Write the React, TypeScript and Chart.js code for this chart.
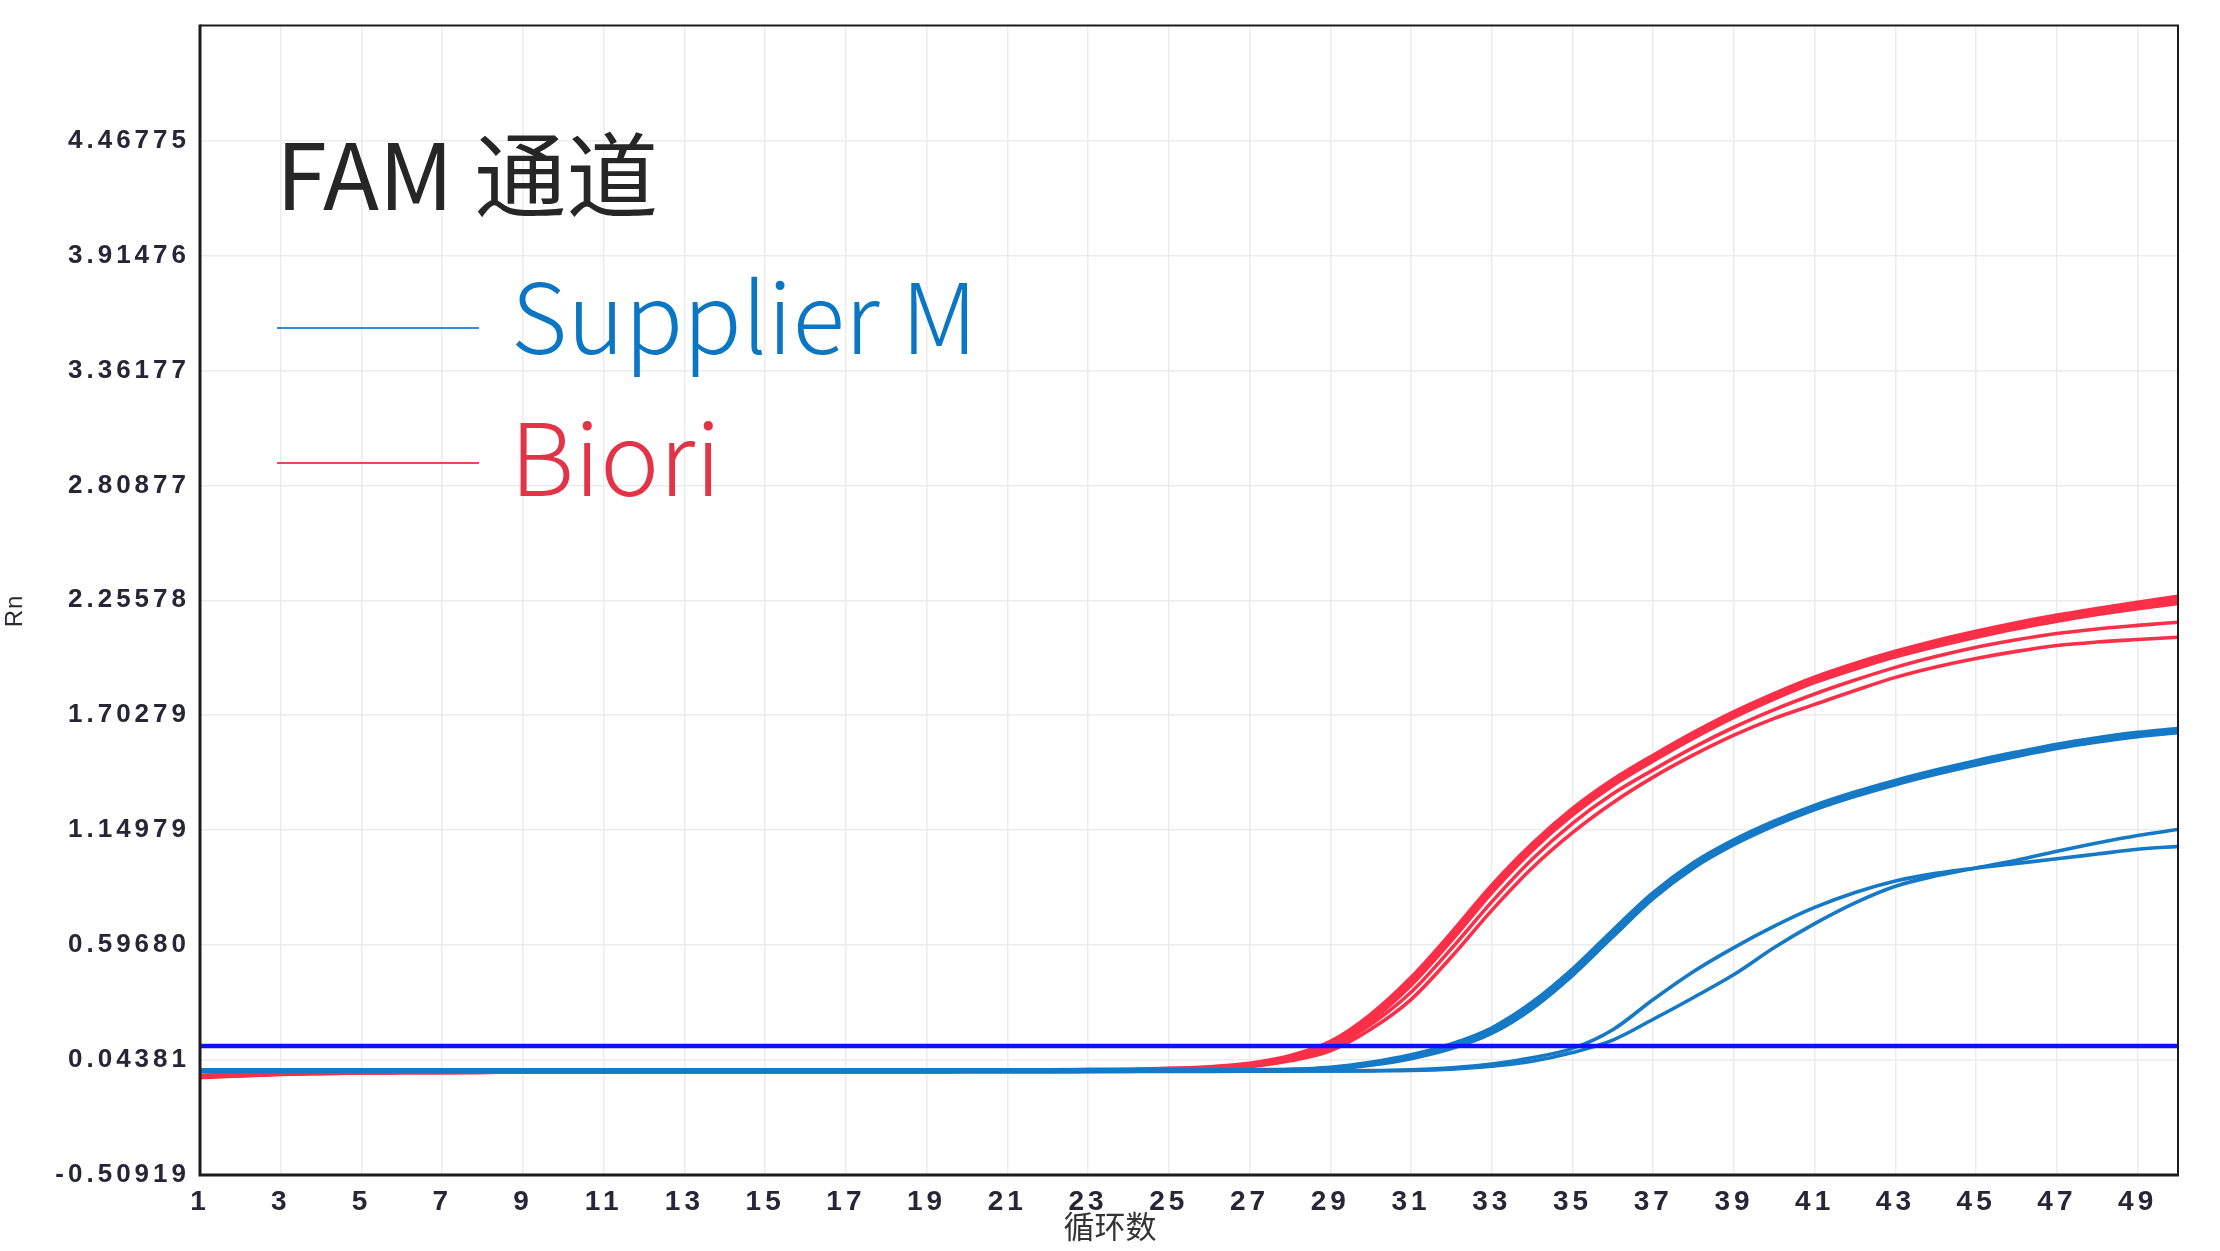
import { useEffect, useRef } from "react";
import { Chart, registerables } from "chart.js";

Chart.register(...registerables);

const CYCLES = [
  1, 2, 3, 4, 5, 6, 7, 8, 9, 10, 11, 12, 13, 14, 15, 16, 17, 18, 19, 20, 21, 22, 23, 24, 25,
  26, 27, 28, 29, 30, 31, 32, 33, 34, 35, 36, 37, 38, 39, 40, 41, 42, 43, 44, 45, 46, 47, 48, 49, 50,
];

// Biori replicates (red)
const BIORI_A = [
  -0.036, -0.028, -0.021, -0.017, -0.014, -0.013, -0.012, -0.011, -0.01, -0.01, -0.01, -0.009, -0.009,
  -0.009, -0.009, -0.009, -0.009, -0.009, -0.009, -0.008, -0.008, -0.008, -0.007, -0.005, -0.001,
  0.007, 0.024, 0.06, 0.128, 0.258, 0.435, 0.65, 0.878, 1.078, 1.248, 1.388, 1.505, 1.615, 1.715,
  1.803, 1.882, 1.948, 2.006, 2.057, 2.102, 2.143, 2.18, 2.212, 2.242, 2.27,
];
const BIORI_B = [
  -0.034, -0.027, -0.02, -0.016, -0.014, -0.013, -0.012, -0.011, -0.01, -0.01, -0.01, -0.009, -0.009,
  -0.009, -0.009, -0.009, -0.009, -0.009, -0.009, -0.008, -0.008, -0.008, -0.007, -0.006, -0.002,
  0.005, 0.02, 0.052, 0.115, 0.238, 0.41, 0.625, 0.855, 1.058, 1.228, 1.37, 1.488, 1.598, 1.698,
  1.786, 1.865, 1.93, 1.988, 2.038, 2.083, 2.124, 2.16, 2.192, 2.22, 2.245,
];
const BIORI_C = [
  -0.035, -0.027, -0.02, -0.016, -0.014, -0.013, -0.012, -0.011, -0.01, -0.01, -0.01, -0.009, -0.009,
  -0.009, -0.009, -0.009, -0.009, -0.009, -0.009, -0.008, -0.008, -0.008, -0.008, -0.006, -0.003,
  0.003, 0.016, 0.046, 0.102, 0.215, 0.37, 0.58, 0.805, 1.01, 1.183, 1.325, 1.44, 1.548, 1.645,
  1.73, 1.805, 1.872, 1.933, 1.985, 2.03, 2.066, 2.096, 2.118, 2.135, 2.15,
];
const BIORI_D = [
  -0.036, -0.028, -0.021, -0.017, -0.014, -0.013, -0.012, -0.011, -0.01, -0.01, -0.01, -0.009, -0.009,
  -0.009, -0.009, -0.009, -0.009, -0.009, -0.009, -0.008, -0.008, -0.008, -0.008, -0.007, -0.004,
  0.001, 0.012, 0.04, 0.088, 0.192, 0.335, 0.54, 0.764, 0.968, 1.138, 1.282, 1.405, 1.512, 1.607,
  1.688, 1.755, 1.822, 1.885, 1.935, 1.976, 2.01, 2.038, 2.055, 2.067, 2.078,
];

// Supplier M replicates (blue)
const SUPPLIER_A = [
  -0.007, -0.007, -0.007, -0.007, -0.007, -0.007, -0.007, -0.007, -0.007, -0.007, -0.007, -0.007,
  -0.007, -0.007, -0.007, -0.007, -0.007, -0.007, -0.007, -0.007, -0.007, -0.007, -0.007, -0.007,
  -0.007, -0.007, -0.006, -0.004, 0.006, 0.03, 0.066, 0.118, 0.195, 0.318, 0.478, 0.665, 0.845, 0.99,
  1.1, 1.19, 1.266, 1.33, 1.386, 1.436, 1.481, 1.522, 1.56, 1.591, 1.617, 1.636,
];
const SUPPLIER_B = [
  -0.008, -0.008, -0.008, -0.008, -0.008, -0.008, -0.008, -0.008, -0.008, -0.008, -0.008, -0.008,
  -0.008, -0.008, -0.008, -0.008, -0.008, -0.008, -0.008, -0.008, -0.008, -0.008, -0.008, -0.008,
  -0.008, -0.008, -0.007, -0.005, 0.002, 0.022, 0.054, 0.102, 0.176, 0.295, 0.455, 0.642, 0.825, 0.972,
  1.084, 1.175, 1.252, 1.316, 1.372, 1.422, 1.467, 1.508, 1.546, 1.577, 1.603, 1.622,
];
const SUPPLIER_C = [
  -0.008, -0.008, -0.008, -0.008, -0.008, -0.008, -0.008, -0.008, -0.008, -0.008, -0.008, -0.008,
  -0.008, -0.008, -0.008, -0.008, -0.008, -0.008, -0.008, -0.008, -0.008, -0.008, -0.008, -0.008,
  -0.008, -0.008, -0.008, -0.008, -0.008, -0.007, -0.003, 0.006, 0.025, 0.055, 0.1, 0.19, 0.335, 0.47,
  0.585, 0.688, 0.778, 0.85, 0.905, 0.942, 0.968, 0.99, 1.012, 1.035, 1.058, 1.072,
];
const SUPPLIER_D = [
  -0.009, -0.009, -0.009, -0.009, -0.009, -0.009, -0.009, -0.009, -0.009, -0.009, -0.009, -0.009,
  -0.009, -0.009, -0.009, -0.009, -0.009, -0.009, -0.009, -0.009, -0.009, -0.009, -0.009, -0.009,
  -0.009, -0.009, -0.009, -0.009, -0.009, -0.008, -0.006, 0.0, 0.014, 0.038, 0.08, 0.14, 0.24, 0.345,
  0.455, 0.585, 0.7, 0.8, 0.88, 0.93, 0.968, 1.005, 1.048, 1.088, 1.124, 1.153,
];

const THRESHOLD = 0.111;

const Y_TICKS = [-0.50919, 0.04381, 0.5968, 1.14979, 1.70279, 2.25578, 2.80877, 3.36177, 3.91476, 4.46775];
const Y_TICK_LABELS = [
  "-0.50919", "0.04381", "0.59680", "1.14979", "1.70279", "2.25578", "2.80877", "3.36177", "3.91476", "4.46775",
];
const Y_MIN = -0.50919;
const Y_MAX = 5.02075;
const X_TICKS = [1, 3, 5, 7, 9, 11, 13, 15, 17, 19, 21, 23, 25, 27, 29, 31, 33, 35, 37, 39, 41, 43, 45, 47, 49];
const X_MIN = 1;
const X_MAX = 50;

const TITLE = "FAM 通道";
const LEGEND_SUPPLIER = "Supplier M";
const LEGEND_BIORI = "Biori";
const X_TITLE = "循环数";
const Y_TITLE = "Rn";

const RED = "#fb2f48";
const BLUE = "#1679c6";
const THRESH_BLUE = "#1010ff";

function pts(vals: number[]) {
  return CYCLES.map((c, i) => ({ x: c, y: vals[i] }));
}

export default function App() {
  const ref = useRef<HTMLCanvasElement | null>(null);

  useEffect(() => {
    if (!ref.current) return;

    const overlay = {
      id: "overlay",
      beforeDraw(chart: any) {
        chart.ctx.letterSpacing = "4px";
      },
      afterDatasetsDraw(chart: any) {
        const { ctx, chartArea } = chart;
        const { left, right, top, bottom } = chartArea;
        ctx.save();
        ctx.strokeStyle = "#1c1c1c";
        ctx.lineWidth = 2;
        ctx.beginPath();
        ctx.moveTo(left, top);
        ctx.lineTo(right, top);
        ctx.lineTo(right, bottom);
        ctx.stroke();
        ctx.lineWidth = 3;
        ctx.beginPath();
        ctx.moveTo(left, top - 1);
        ctx.lineTo(left, bottom);
        ctx.lineTo(right + 1, bottom);
        ctx.stroke();
        ctx.restore();
      },
      afterDraw(chart: any) {
        const ctx = chart.ctx as CanvasRenderingContext2D;
        ctx.save();
        (ctx as any).letterSpacing = "0px";
        ctx.textBaseline = "alphabetic";
        ctx.textAlign = "left";

        ctx.fillStyle = "#262626";
        ctx.font = '400 92px "Noto Sans CJK SC"';
        ctx.fillText(TITLE, 276, 210);

        ctx.lineWidth = 2;
        ctx.strokeStyle = "#2f8fd6";
        ctx.beginPath();
        ctx.moveTo(277, 328);
        ctx.lineTo(479, 328);
        ctx.stroke();
        ctx.strokeStyle = "#e8485a";
        ctx.beginPath();
        ctx.moveTo(277, 463);
        ctx.lineTo(479, 463);
        ctx.stroke();

        ctx.font = '300 97px "Noto Sans CJK SC"';
        ctx.fillStyle = "#0a76c4";
        ctx.fillText(LEGEND_SUPPLIER, 511, 354);
        ctx.font = '300 100px "Noto Sans CJK SC"';
        ctx.fillStyle = "#e23347";
        ctx.fillText(LEGEND_BIORI, 510, 496);

        ctx.fillStyle = "#333";
        ctx.font = '400 31px "Noto Sans CJK SC"';
        ctx.textAlign = "center";
        ctx.textBaseline = "middle";
        ctx.fillText(X_TITLE, 1110, 1226);

        ctx.save();
        ctx.translate(15, 611);
        ctx.rotate(-Math.PI / 2);
        (ctx as any).letterSpacing = "1px";
        ctx.font = '24px "Liberation Sans"';
        ctx.fillStyle = "#2a2a35";
        ctx.fillText(Y_TITLE, 0, 0);
        ctx.restore();

        ctx.restore();
      },
    };

    const thin = 3.6;
    const chart = new Chart(ref.current, {
      type: "line",
      data: {
        datasets: [
          { label: "threshold", data: [{ x: X_MIN, y: THRESHOLD }, { x: X_MAX, y: THRESHOLD }], borderColor: THRESH_BLUE, borderWidth: 4.5, order: 0 },
          { label: "Supplier M 1", data: pts(SUPPLIER_A), borderColor: BLUE, borderWidth: 5, order: 1 },
          { label: "Supplier M 2", data: pts(SUPPLIER_B), borderColor: BLUE, borderWidth: 5, order: 1 },
          { label: "Supplier M 3", data: pts(SUPPLIER_C), borderColor: BLUE, borderWidth: thin, order: 1 },
          { label: "Supplier M 4", data: pts(SUPPLIER_D), borderColor: BLUE, borderWidth: thin, order: 1 },
          { label: "Biori 1", data: pts(BIORI_A), borderColor: RED, borderWidth: 5.5, order: 2 },
          { label: "Biori 2", data: pts(BIORI_B), borderColor: RED, borderWidth: 5.5, order: 2 },
          { label: "Biori 3", data: pts(BIORI_C), borderColor: RED, borderWidth: thin, order: 2 },
          { label: "Biori 4", data: pts(BIORI_D), borderColor: RED, borderWidth: thin, order: 2 },
        ].map((d) => ({ ...d, pointRadius: 0, fill: false, cubicInterpolationMode: "monotone" as const })),
      },
      options: {
        animation: false,
        responsive: false,
        devicePixelRatio: 1,
        layout: { padding: { left: 0, right: 42, top: 25, bottom: 0 } },
        plugins: { legend: { display: false }, tooltip: { enabled: false } },
        scales: {
          x: {
            type: "linear",
            min: X_MIN,
            max: X_MAX,
            afterBuildTicks: (s: any) => {
              s.ticks = X_TICKS.map((v) => ({ value: v }));
            },
            afterFit: (s: any) => {
              s.height = 76;
            },
            border: { display: false },
            grid: { color: "#ececec", lineWidth: 1.5, drawTicks: false },
            ticks: {
              autoSkip: false,
              maxRotation: 0,
              padding: 10,
              color: "#262636",
              font: { family: "Liberation Sans", size: 28, weight: "bold" },
              callback: (v: any) => String(v),
            },
          },
          y: {
            type: "linear",
            min: Y_MIN,
            max: Y_MAX,
            afterBuildTicks: (s: any) => {
              s.ticks = Y_TICKS.map((v) => ({ value: v }));
            },
            afterFit: (s: any) => {
              s.width = 200;
            },
            border: { display: false },
            grid: { color: "#ececec", lineWidth: 1.5, drawTicks: false },
            ticks: {
              autoSkip: false,
              padding: 10,
              color: "#262636",
              font: { family: "Liberation Sans", size: 26, weight: "bold" },
              callback: (_v: any, i: number) => Y_TICK_LABELS[i],
            },
          },
        },
      },
      plugins: [overlay],
    });

    return () => chart.destroy();
  }, []);

  return (
    <div style={{ position: "fixed", left: 0, top: 0, width: 2220, height: 1251, background: "#fff" }}>
      <canvas ref={ref} width={2220} height={1251} style={{ width: 2220, height: 1251, display: "block" }} />
    </div>
  );
}
